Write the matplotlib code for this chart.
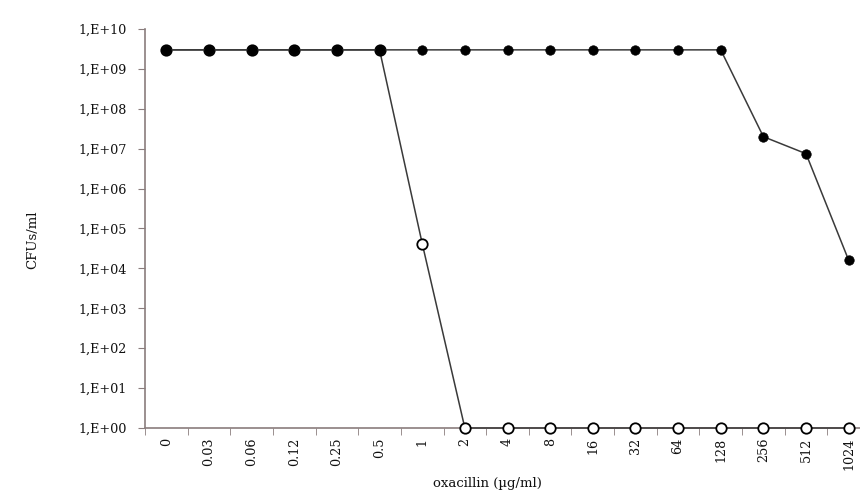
import numpy as np
import matplotlib
matplotlib.use("Agg")
import matplotlib.pyplot as plt
from matplotlib.ticker import FixedLocator

#---data---#
doses = ['0', '0.03', '0.06', '0.12', '0.25', '0.5', '1', '2', '4', '8',
         '16', '32', '64', '128', '256', '512', '1024']
# filled circles
cfu_filled = [3e9, 3e9, 3e9, 3e9, 3e9, 3e9, 3e9, 3e9, 3e9, 3e9,
              3e9, 3e9, 3e9, 3e9, 2e7, 7.5e6, 1.6e4]
# open circles
cfu_open = [3e9, 3e9, 3e9, 3e9, 3e9, 3e9, 4.2e4, 1, 1, 1,
            1, 1, 1, 1, 1, 1, 1]
y_exp = list(range(0, 11))
#---data---#

plt.rcParams['font.family'] = ['DejaVu Serif']
axis_col = '#8a7d7d'
line_col = '#3a3a3a'
txt_col = '#111111'

fig = plt.figure(figsize=(8.6, 4.96), dpi=100)
ax = fig.add_axes([145/860, 68/496, 725/860, 399/496])

x = np.arange(len(doses))
# open series first so the filled dots sit on top of it
ax.plot(x, cfu_open, color=line_col, lw=1.1, marker='o', ms=7.5,
        mfc='white', mec='black', mew=1.3, zorder=3, clip_on=False)
ax.plot(x, cfu_filled, color=line_col, lw=1.1, marker='o', ms=6.8,
        mfc='black', mec='black', mew=0.5, zorder=4, clip_on=False)

ax.set_yscale('log')
ax.set_ylim(1, 1e10)
ax.set_xlim(-0.5, len(doses) - 0.5)

yt = [10.0 ** k for k in y_exp]
ax.yaxis.set_major_locator(FixedLocator(yt))
ax.yaxis.set_minor_locator(FixedLocator([]))
ax.set_yticklabels(['1,E+%02d' % k for k in y_exp], fontsize=9.2, color=txt_col)

ax.set_xticks(x)
ax.set_xticklabels(doses, rotation=90, fontsize=9.2, color=txt_col)
ax.set_xticks(np.arange(len(doses) + 1) - 0.5, minor=True)
ax.tick_params(axis='x', which='major', length=0, pad=7)
ax.tick_params(axis='x', which='minor', length=5, color=axis_col, direction='out')
ax.tick_params(axis='y', which='major', length=5, color=axis_col, pad=8)

for s in ['top', 'right']:
    ax.spines[s].set_visible(False)
for s in ['left', 'bottom']:
    ax.spines[s].set_color(axis_col)
    ax.spines[s].set_linewidth(1.2)

fig.text(487/860, 1 - 484/496, 'oxacillin (µg/ml)', fontsize=9.5,
         ha='center', va='center', color=txt_col)
fig.text(33/860, 1 - 240/496, 'CFUs/ml', fontsize=9.5, rotation=90,
         ha='center', va='center', color=txt_col)

fig.savefig('out.png', dpi=100)
